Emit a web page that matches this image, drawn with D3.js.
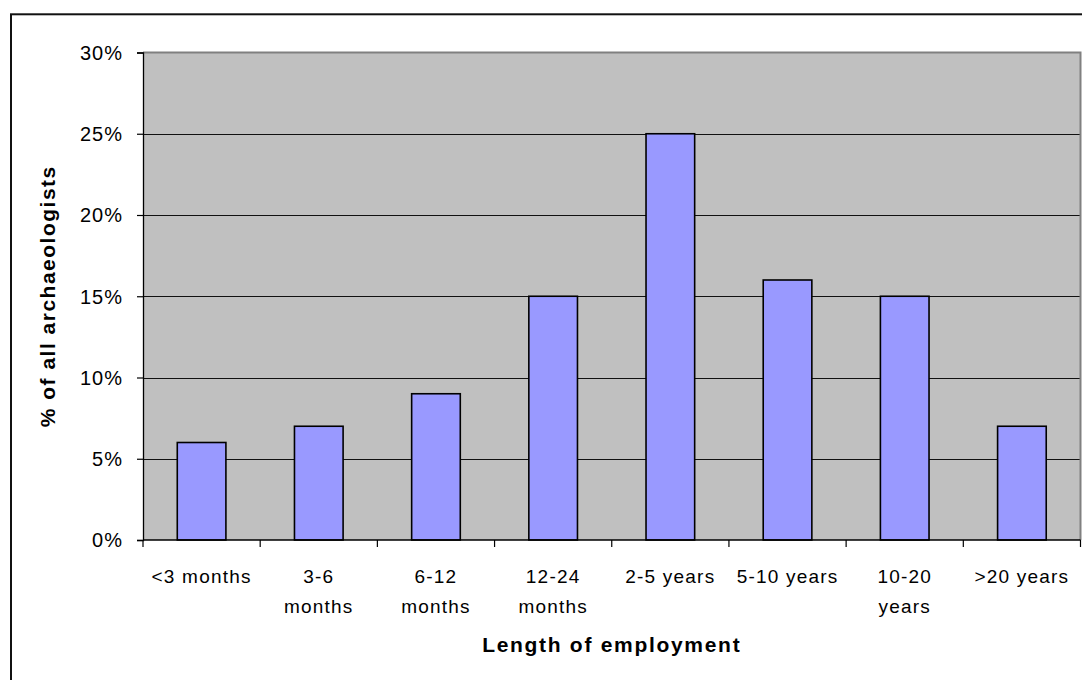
<!DOCTYPE html>
<html>
<head>
<meta charset="utf-8">
<script src="https://cdn.jsdelivr.net/npm/d3@7"></script>
<style>
  html, body { margin: 0; padding: 0; background: #fff; }
  svg { display: block; }
  text { font-family: "Liberation Sans", Arial, sans-serif; fill: #000; }
</style>
</head>
<body>
<svg id="chart" width="1082" height="680"></svg>
<script>
const categories = ["<3 months", "3-6\nmonths", "6-12\nmonths", "12-24\nmonths", "2-5 years", "5-10 years", "10-20\nyears", ">20 years"];
const values = [6, 7, 9, 15, 25, 16, 15, 7];
const yTicks = [0, 5, 10, 15, 20, 25, 30];
const xTitle = "Length of employment";
const yTitle = "% of all archaeologists";

const svg = d3.select("#chart");
const plot = { left: 143, top: 52.5, right: 1080.5, bottom: 540 };

// outer frame (extends past right and bottom edges)
svg.append("rect")
  .attr("x", 11).attr("y", 14.3)
  .attr("width", 1200).attr("height", 800)
  .attr("fill", "#fff").attr("stroke", "#111").attr("stroke-width", 2);

const x = d3.scaleBand().domain(categories).range([plot.left, plot.right]).paddingInner(0).paddingOuter(0);
const y = d3.scaleLinear().domain([0, 30]).range([plot.bottom, plot.top]);

// plot background
svg.append("rect")
  .attr("x", plot.left).attr("y", plot.top)
  .attr("width", plot.right - plot.left).attr("height", plot.bottom - plot.top)
  .attr("fill", "#C0C0C0");

// gridlines
svg.append("g").selectAll("line").data(yTicks.filter(t => t > 0 && t < 30)).join("line")
  .attr("x1", plot.left).attr("x2", plot.right)
  .attr("y1", d => Math.round(y(d)) + 0.5).attr("y2", d => Math.round(y(d)) + 0.5)
  .attr("stroke", "#111").attr("stroke-width", 1.2);

// plot border top/right (gray)
svg.append("path")
  .attr("d", `M${plot.left},${plot.top}H${plot.right}V${plot.bottom}`)
  .attr("fill", "none").attr("stroke", "#808080").attr("stroke-width", 2);

// bars
const barW = x.bandwidth() * 0.415;
svg.append("g").selectAll("rect").data(values).join("rect")
  .attr("x", (d, i) => x(categories[i]) + (x.bandwidth() - barW) / 2)
  .attr("y", d => y(d))
  .attr("width", barW)
  .attr("height", d => y(0) - y(d))
  .attr("fill", "#9999FF")
  .attr("stroke", "#000")
  .attr("stroke-width", 1.6);

// y axis
const yAxis = svg.append("g").attr("transform", `translate(${plot.left},0)`)
  .call(d3.axisLeft(y).tickValues(yTicks).tickSize(6).tickPadding(14).tickFormat(d => d + "%"));
yAxis.select(".domain").attr("stroke", "#000").attr("stroke-width", 1.3);
yAxis.selectAll(".tick line").attr("stroke", "#000").attr("stroke-width", 1.2);
yAxis.selectAll(".tick text")
  .attr("font-family", '"Liberation Sans", Arial, sans-serif')
  .attr("font-size", 20).attr("letter-spacing", 1).attr("fill", "#000")
  .attr("dy", "0.34em");

// x axis line and ticks between categories
const xg = svg.append("g");
xg.append("line")
  .attr("x1", plot.left).attr("x2", plot.right)
  .attr("y1", plot.bottom).attr("y2", plot.bottom)
  .attr("stroke", "#000").attr("stroke-width", 1.3);
const boundaries = categories.map(c => x(c)).concat([plot.right]);
xg.selectAll("line.tk").data(boundaries).join("line").attr("class", "tk")
  .attr("x1", d => d).attr("x2", d => d)
  .attr("y1", plot.bottom).attr("y2", plot.bottom + 7)
  .attr("stroke", "#000").attr("stroke-width", 1.2);

// x labels
const lbl = svg.append("g").selectAll("text").data(categories).join("text")
  .attr("text-anchor", "middle")
  .attr("font-size", 19).attr("letter-spacing", 1.2);
lbl.each(function(d) {
  const t = d3.select(this);
  const cx = x(d) + x.bandwidth() / 2;
  d.split("\n").forEach((line, k) => {
    t.append("tspan").attr("x", cx).attr("y", 583 + k * 29.5).text(line);
  });
});

// axis titles
svg.append("text")
  .attr("x", (plot.left + plot.right) / 2).attr("y", 652)
  .attr("text-anchor", "middle")
  .attr("font-size", 21).attr("font-weight", "bold").attr("letter-spacing", 1.7)
  .text(xTitle);

svg.append("text")
  .attr("transform", `translate(55,${(plot.top + plot.bottom) / 2}) rotate(-90)`)
  .attr("text-anchor", "middle")
  .attr("font-size", 21).attr("font-weight", "bold").attr("letter-spacing", 1.5)
  .text(yTitle);
</script>
</body>
</html>
